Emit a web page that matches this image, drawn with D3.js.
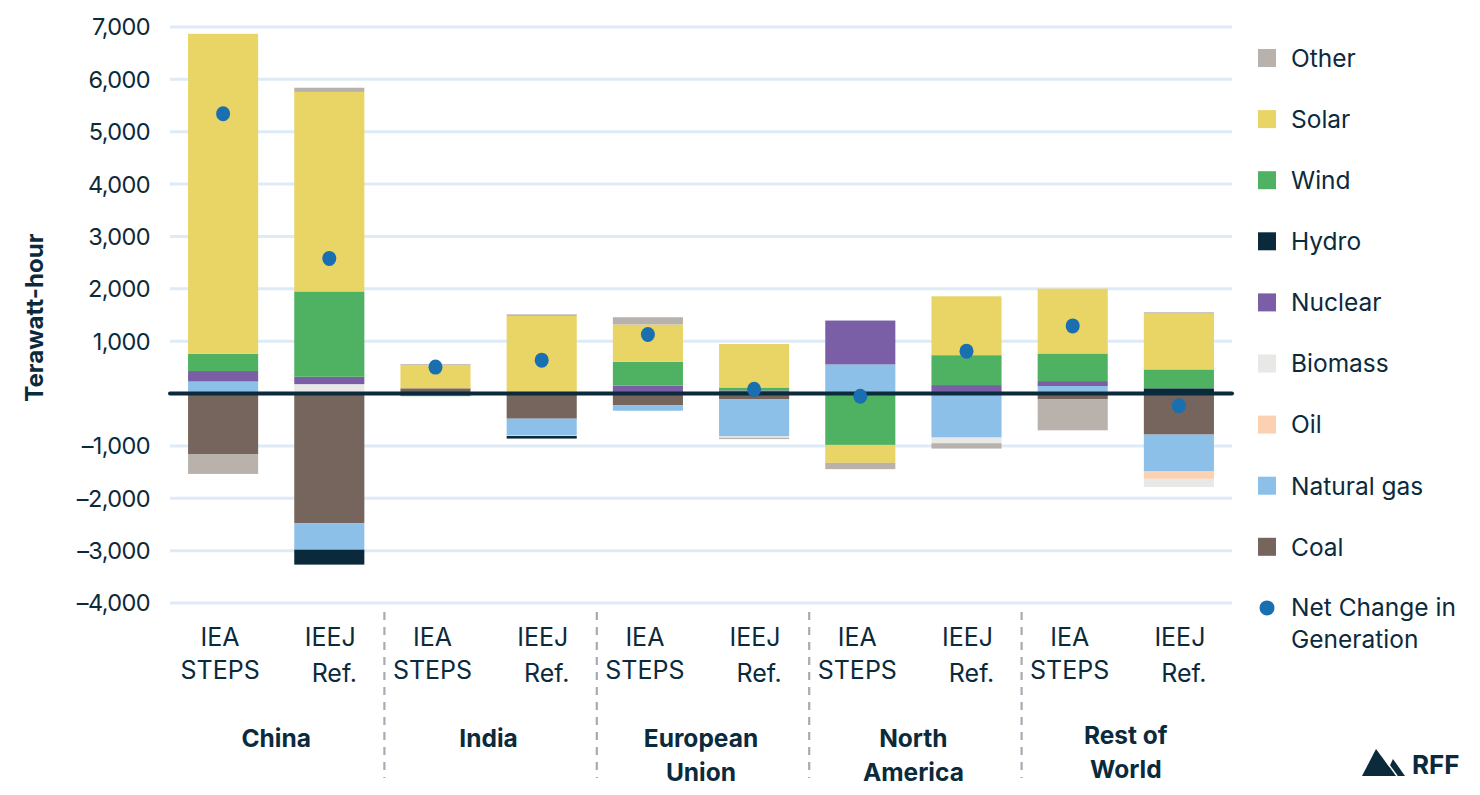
<!DOCTYPE html>
<html><head><meta charset="utf-8">
<script src="https://cdn.jsdelivr.net/npm/d3@7"></script>
<style>
html,body{margin:0;padding:0;background:#fff;}
svg text{font-family:Inter,"Open Sans",sans-serif;fill:#0b2a3c;}
</style></head>
<body><svg id="c" width="1480" height="795"></svg>
<script>
// ---- data ----
const regions = ["China", "India", "European Union", "North America", "Rest of World"];
const regionLines = [["China"], ["India"], ["European", "Union"], ["North", "America"], ["Rest of", "World"]];
const scenarios = ["IEA STEPS", "IEEJ Ref."];
const scenarioLines = [["IEA", "STEPS"], ["IEEJ", "Ref."]];
const barIds = ["CN-IEA","CN-IEEJ","IN-IEA","IN-IEEJ","EU-IEA","EU-IEEJ","NA-IEA","NA-IEEJ","RW-IEA","RW-IEEJ"];

const coal    = [-1155, -2474,  100, -480, -220, -105,    0,    0, -105, -784];
const natGas  = [  230,  -507,    0, -320, -108, -715,  556, -841,  143, -705];
const oil     = [    0,     0,    0,    0,    0,    0,    0,    0,    0, -140];
const biomass = [    0,   180,    0,  -10,    0,  -25,    0, -108,    0, -158];
const nuclear = [  200,   140,    0,    0,  150,   60,  838,  162,   95,    0];
const hydro   = [    0,  -286,    0,  -50,    0,    0,    0,    0,    0,  100];
const wind    = [  330,  1630,  -50,    0,  456,   55, -981,  571,  527,  361];
const solar   = [ 6110,  3810,  440, 1482,  712,  830, -343, 1124, 1238, 1066];
const other   = [ -380,    80,   20,   30,  139,  -25, -120, -102, -597,   25];
const netChange = [5343, 2581, 505, 638, 1128, 80, -53, 810, 1292, -232];

const yTicks = [-4000, -3000, -2000, -1000, 1000, 2000, 3000, 4000, 5000, 6000, 7000];

const sourceKeys = ["Coal", "Natural gas", "Oil", "Biomass", "Nuclear", "Hydro", "Wind", "Solar", "Other"];
const sourceValues = [coal, natGas, oil, biomass, nuclear, hydro, wind, solar, other];
const legendKeys = ["Other", "Solar", "Wind", "Hydro", "Nuclear", "Biomass", "Oil", "Natural gas", "Coal"];
const colors = {
  "Other": "#b9b1ac", "Solar": "#e9d466", "Wind": "#4fb262", "Hydro": "#0a2a3c",
  "Nuclear": "#7a5fa6", "Biomass": "#e8e8e6", "Oil": "#fbd1b1", "Natural gas": "#8cc0e8", "Coal": "#75655c"
};
const dotColor = "#1a6fb0";
const ink = "#0b2a3c";

// ---- build table ----
const table = barIds.map((id, i) => {
  const row = {id};
  sourceKeys.forEach((k, j) => row[k] = sourceValues[j][i]);
  row.net = netChange[i];
  return row;
});

const svg = d3.select("#c");
const x = d3.scaleBand().domain(barIds).range([170, 1232]).paddingInner(0.34).paddingOuter(0.17);
const y = d3.scaleLinear().domain([-4000, 7000]).range([603, 27]);

// gridlines
svg.append("g").selectAll("line").data(yTicks).join("line")
  .attr("x1", 170).attr("x2", 1232)
  .attr("y1", d => y(d)).attr("y2", d => y(d))
  .attr("stroke", "#deebf7").attr("stroke-width", 3);

// y labels
svg.append("g").selectAll("text").data(yTicks).join("text")
  .attr("x", 150).attr("y", d => y(d)).attr("dy", "0.36em")
  .attr("text-anchor", "end").attr("font-size", 23.5).attr("letter-spacing", -0.6)
  .text(d => (d < 0 ? "\u2013" : "") + d3.format(",")(Math.abs(d)));

svg.append("text")
  .attr("transform", `translate(43,${y(1450)}) rotate(-90)`)
  .attr("text-anchor", "middle").attr("font-size", 24).attr("font-weight", 700)
  .text("Terawatt-hour");

// stacks
const stack = d3.stack().keys(sourceKeys).offset(d3.stackOffsetDiverging);
const series = stack(table);
svg.append("g").selectAll("g").data(series).join("g")
  .attr("fill", s => colors[s.key])
  .selectAll("rect").data(s => s).join("rect")
  .attr("x", d => x(d.data.id)).attr("width", x.bandwidth())
  .attr("y", d => y(Math.max(d[0], d[1])))
  .attr("height", d => Math.abs(y(d[0]) - y(d[1])));

// zero line
svg.append("line").attr("x1", 170).attr("x2", 1232).attr("y1", y(0)).attr("y2", y(0))
  .attr("stroke", ink).attr("stroke-width", 4).attr("stroke-linecap", "round");

// net dots
svg.append("g").selectAll("ellipse").data(table).join("ellipse")
  .attr("cx", d => x(d.id) + x.bandwidth() / 2).attr("cy", d => y(d.net))
  .attr("rx", 7).attr("ry", 7.5).attr("fill", dotColor);

// scenario labels
table.forEach((d, i) => {
  const lines = scenarioLines[i % 2];
  const cx = x(d.id) + x.bandwidth() / 2 + (i % 2 ? 1 : -3);
  const t = svg.append("text").attr("text-anchor", "middle").attr("font-size", 25);
  t.append("tspan").attr("x", cx).attr("y", 646).text(lines[0]);
  t.append("tspan").attr("x", cx + (i % 2 ? 4 : 0)).attr("y", i % 2 ? 682 : 679).text(lines[1]);
});

// region labels
regions.forEach((r, g) => {
  const cx = (x(barIds[2 * g]) + x(barIds[2 * g + 1]) + x.bandwidth()) / 2;
  const lines = regionLines[g];
  const t = svg.append("text").attr("text-anchor", "middle").attr("font-size", 24.5).attr("font-weight", 700);
  const y0 = g === 4 ? 744 : 747;
  lines.forEach((l, k) => t.append("tspan").attr("x", cx).attr("y", y0 + k * 34).text(l));
});

// dividers
for (let g = 0; g < regions.length - 1; g++) {
  const xd = (x(barIds[2 * g + 1]) + x.bandwidth() + x(barIds[2 * g + 2])) / 2 + 2;
  svg.append("line").attr("x1", xd).attr("x2", xd).attr("y1", 612).attr("y2", 778)
    .attr("stroke", "#a9a9b3").attr("stroke-width", 2.2).attr("stroke-dasharray", "8,7");
}

// legend
const lg = svg.append("g");
legendKeys.forEach((k, i) => {
  const yy = 58 + i * 61.1;
  lg.append("rect").attr("x", 1258).attr("y", yy - 9).attr("width", 18).attr("height", 18).attr("fill", colors[k]);
  lg.append("text").attr("x", 1291).attr("y", yy).attr("dy", "0.36em").attr("font-size", 24.5).text(k);
});
{
  const yy = 58 + 9 * 61.1;
  lg.append("circle").attr("cx", 1267).attr("cy", yy).attr("r", 7.5).attr("fill", dotColor);
  const t = lg.append("text").attr("font-size", 24.5);
  t.append("tspan").attr("x", 1291).attr("y", yy + 8).text("Net Change in");
  t.append("tspan").attr("x", 1291).attr("y", yy + 40).text("Generation");
}

// RFF logo
const logo = svg.append("g").attr("fill", ink);
logo.append("polygon").attr("points", "1362,776 1376,749 1396,776");
logo.append("polygon").attr("points", "1385,776 1393,759 1405,776");
logo.append("line").attr("x1", 1386).attr("y1", 761).attr("x2", 1397).attr("y2", 776)
  .attr("stroke", "#fff").attr("stroke-width", 1.5);
svg.append("text").attr("x", 1412).attr("y", 774).attr("font-size", 26).attr("font-weight", 700).text("RFF");
</script></body></html>
